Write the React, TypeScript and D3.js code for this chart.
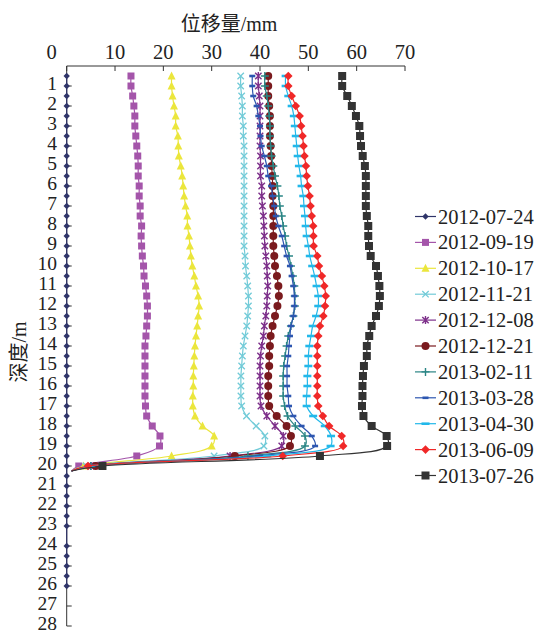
import React from "react";
import * as d3 from "d3";

// ---------- data ----------
const depths = [0.5, 1, 1.5, 2, 2.5, 3, 3.5, 4, 4.5, 5, 5.5, 6, 6.5, 7, 7.5, 8, 8.5, 9, 9.5, 10,
  10.5, 11, 11.5, 12, 12.5, 13, 13.5, 14, 14.5, 15, 15.5, 16, 16.5, 17, 17.5, 18, 18.5, 19, 19.5, 20];

const refDepths = [0.5, 1, 1.5, 2, 2.5, 3, 3.5, 4, 4.5, 5, 5.5, 6, 6.5, 7, 7.5, 8, 8.5, 9, 9.5, 10,
  10.5, 11, 11.5, 12, 12.5, 13, 13.5, 14, 14.5, 15, 15.5, 16, 16.5, 17, 17.5, 18, 18.5, 19, 19.5, 20,
  20.5, 21, 21.5, 22, 22.5, 23, 24, 24.5, 25, 25.5, 26];
const v20120724 = [0, 0, 0, 0, 0, 0, 0, 0, 0, 0, 0, 0, 0, 0, 0, 0, 0, 0, 0, 0,
  0, 0, 0, 0, 0, 0, 0, 0, 0, 0, 0, 0, 0, 0, 0, 0, 0, 0, 0, 0,
  0, 0, 0, 0, 0, 0, 0, 0, 0, 0, 0];

const v20120919 = [13.3, 13.3, 13.65, 13.9, 14.1, 14.1, 14.3, 14.5, 14.7, 14.8,
  14.8, 15.0, 15.0, 15.2, 15.2, 15.5, 15.4, 15.5, 15.65, 15.9,
  16.0, 16.3, 16.55, 16.7, 16.7, 16.55, 16.4, 16.2, 16.2, 16.2,
  16.2, 16.2, 16.2, 16.3, 16.55, 17.7, 19.3, 19.2, 14.5, 2.5];
const v20121017 = [21.7, 21.7, 21.9, 22.2, 22.55, 22.55, 23.0, 23.1, 23.2, 23.6,
  23.9, 24.1, 24.3, 24.6, 24.95, 25.0, 25.3, 25.5, 25.7, 26.0,
  26.4, 26.75, 27.2, 27.4, 27.2, 27.0, 26.75, 26.55, 26.4, 26.3,
  26.2, 26.2, 26.1, 26.1, 26.55, 28.1, 30.5, 30.0, 21.7, 3.5];
const v20121121 = [36.0, 36.0, 36.2, 36.35, 36.35, 36.55, 36.55, 36.7, 36.7, 36.7,
  36.7, 36.7, 36.7, 36.7, 36.7, 36.7, 36.7, 36.7, 36.9, 37.0,
  37.25, 37.45, 37.6, 37.6, 37.45, 37.25, 36.9, 36.55, 36.35, 36.2,
  36.05, 36.05, 36.05, 36.2, 37.2, 39.2, 41.0, 40.8, 30.5, 4.0];
const v20121208 = [39.65, 39.65, 39.85, 40.0, 40.0, 40.0, 40.0, 40.0, 40.1, 40.1,
  40.1, 40.35, 40.35, 40.5, 40.7, 40.8, 40.9, 41.0, 41.2, 41.4,
  41.5, 41.6, 41.5, 41.4, 41.2, 40.9, 40.7, 40.35, 40.1, 40.0,
  40.0, 40.0, 40.0, 40.2, 41.4, 43.1, 44.8, 44.5, 33.8, 5.0];
const v20121221 = [41.7, 41.7, 41.7, 41.9, 42.05, 42.05, 42.05, 42.2, 42.3, 42.4,
  42.55, 42.6, 42.6, 42.75, 42.75, 42.75, 42.75, 42.75, 42.95, 43.1,
  43.5, 43.8, 43.9, 43.6, 43.1, 42.6, 42.2, 42.05, 41.9, 41.9,
  41.7, 41.7, 41.7, 41.9, 43.45, 45.5, 46.4, 46.2, 34.8, 6.0];
const v20130211 = [41.0, 41.0, 41.4, 41.7, 41.9, 42.05, 42.05, 42.2, 42.4, 42.75,
  43.1, 43.6, 43.9, 44.1, 44.5, 44.8, 45.2, 45.5, 46.0, 46.4,
  46.8, 47.1, 47.2, 47.2, 46.9, 46.4, 45.85, 45.5, 45.2, 44.9,
  44.8, 44.8, 44.8, 45.1, 45.7, 47.3, 49.3, 49.3, 37.5, 5.0];
const v20130328 = [38.4, 38.4, 38.6, 39.3, 39.65, 40.0, 40.1, 40.35, 40.9, 41.4,
  41.7, 42.3, 42.6, 42.95, 43.25, 43.8, 44.5, 45.0, 45.5, 46.2,
  46.55, 46.9, 47.1, 47.1, 46.9, 46.4, 46.2, 46.0, 45.85, 45.6,
  45.6, 45.6, 45.85, 46.0, 46.9, 48.6, 50.7, 51.4, 39.5, 5.5];
const v20130430 = [45.3, 45.3, 45.85, 46.55, 47.0, 47.2, 47.4, 47.6, 47.8, 48.05,
  48.4, 48.6, 48.95, 49.1, 49.3, 49.45, 49.65, 50.0, 50.3, 50.8,
  51.3, 51.7, 52.05, 52.05, 51.6, 50.9, 50.55, 50.2, 50.0, 50.0,
  49.8, 49.8, 49.65, 49.65, 51.0, 53.4, 54.7, 54.6, 41.5, 5.0];
const v20130609 = [45.85, 45.85, 46.55, 47.4, 48.2, 48.5, 48.8, 49.0, 49.2, 49.5,
  49.65, 49.9, 50.25, 50.45, 50.7, 51.0, 51.05, 51.1, 51.85, 52.2,
  52.8, 53.3, 53.6, 53.45, 53.1, 52.4, 52.05, 51.85, 51.85, 51.85,
  51.85, 51.85, 51.85, 52.05, 53.0, 54.3, 56.9, 57.2, 44.7, 4.4];
const v20130726 = [57.0, 57.0, 58.05, 59.0, 59.85, 60.55, 60.7, 60.9, 61.25, 61.7,
  61.9, 61.9, 61.9, 61.9, 62.1, 62.4, 62.4, 62.55, 62.9, 64.0,
  64.4, 64.7, 64.8, 64.6, 64.0, 63.1, 62.6, 62.1, 62.1, 61.5,
  61.3, 61.2, 61.2, 61.1, 61.4, 63.1, 66.2, 66.3, 52.4, 7.4];

// end of the lines (unmarked), where the curves meet the reference axis
const tailDepth = 20.25;
const tailValue = 1.0;

const seriesNames = ["2012-07-24", "2012-09-19", "2012-10-17", "2012-11-21", "2012-12-08",
  "2012-12-21", "2013-02-11", "2013-03-28", "2013-04-30", "2013-06-09", "2013-07-26"];
const seriesValues = [v20120724, v20120919, v20121017, v20121121, v20121208, v20121221,
  v20130211, v20130328, v20130430, v20130609, v20130726];
const seriesColors = ["#2f3469", "#a455aa", "#ebe63c", "#72cbd8", "#7d2f8a", "#7a1a1e",
  "#2a8585", "#2d56b0", "#22b8ea", "#f02828", "#333333"];
const seriesMarkers = ["diamond", "square", "triangle", "x", "asterisk", "circle",
  "plus", "dash", "longdash", "reddiamond", "bigsquare"];

const xTicks = [0, 10, 20, 30, 40, 50, 60, 70];
const yTicks = [1, 2, 3, 4, 5, 6, 7, 8, 9, 10, 11, 12, 13, 14, 15, 16, 17, 18, 19, 20,
  21, 22, 23, 24, 25, 26, 27, 28];

const xTitle = "位移量/mm";
const yTitle = "深度/m";

// ---------- layout ----------
const W = 538, H = 633;
const x = d3.scaleLinear().domain([0, 70]).range([66.7, 405]);
const y = d3.scaleLinear().domain([0, 28]).range([66, 626]);
const FONT = "'Liberation Serif', 'Times New Roman', 'Noto Sans CJK SC', serif";
const axisColor = "#333";

function Marker({ type, cx, cy, color }: { type: string; cx: number; cy: number; color: string }) {
  switch (type) {
    case "diamond":
      return <path d={`M${cx},${cy - 3.2}L${cx + 3.2},${cy}L${cx},${cy + 3.2}L${cx - 3.2},${cy}Z`} fill={color} />;
    case "square":
      return <rect x={cx - 3.5} y={cy - 3.5} width={7} height={7} fill={color} />;
    case "bigsquare":
      return <rect x={cx - 4} y={cy - 4} width={8} height={8} fill={color} />;
    case "triangle":
      return <path d={`M${cx},${cy - 4.5}L${cx + 4},${cy + 3.5}L${cx - 4},${cy + 3.5}Z`} fill={color} />;
    case "x":
      return <path d={`M${cx - 3.2},${cy - 3.2}L${cx + 3.2},${cy + 3.2}M${cx - 3.2},${cy + 3.2}L${cx + 3.2},${cy - 3.2}`} stroke={color} strokeWidth={1.3} fill="none" />;
    case "asterisk":
      return <path d={`M${cx - 3.2},${cy - 3.2}L${cx + 3.2},${cy + 3.2}M${cx - 3.2},${cy + 3.2}L${cx + 3.2},${cy - 3.2}M${cx},${cy - 4}L${cx},${cy + 4}`} stroke={color} strokeWidth={1.4} fill="none" />;
    case "circle":
      return <circle cx={cx} cy={cy} r={4} fill={color} />;
    case "plus":
      return <path d={`M${cx - 4},${cy}L${cx + 4},${cy}M${cx},${cy - 4}L${cx},${cy + 4}`} stroke={color} strokeWidth={1.4} fill="none" />;
    case "dash":
      return <rect x={cx - 3} y={cy - 1.3} width={6} height={2.6} fill={color} />;
    case "longdash":
      return <rect x={cx - 4} y={cy - 1.3} width={8} height={2.6} fill={color} />;
    case "reddiamond":
      return <path d={`M${cx},${cy - 4.3}L${cx + 4.3},${cy}L${cx},${cy + 4.3}L${cx - 4.3},${cy}Z`} fill={color} />;
    default:
      return null;
  }
}

export default function App() {
  const line = d3
    .line<[number, number]>()
    .x((d) => x(d[0]))
    .y((d) => y(d[1]))
    .curve(d3.curveCatmullRom.alpha(0.5));

  const series = seriesNames.map((name, i) => {
    const ds = i === 0 ? refDepths : depths;
    const pts: [number, number][] = seriesValues[i].map((v, j) => [v, ds[j]]);
    const linePts: [number, number][] = i === 0 ? pts : [...pts, [tailValue, tailDepth]];
    return { name, color: seriesColors[i], marker: seriesMarkers[i], pts, linePts };
  });

  const legendX = 415;
  const legendY0 = 216.5;
  const legendStep = 25.9;

  return (
    <svg width={W} height={H} style={{ position: "absolute", left: 0, top: 0, background: "#fff" }} fontFamily={FONT}>
      <rect x={0} y={0} width={W} height={H} fill="#fff" />
      {/* titles */}
      <text x={229} y={24} textAnchor="middle" dominantBaseline="central" fontSize={20} fill="#222">{xTitle}</text>
      <text transform={`translate(19,352) rotate(-90)`} textAnchor="middle" dominantBaseline="central" fontSize={20} fill="#222">{yTitle}</text>

      {/* top axis */}
      <line x1={x(0)} x2={x(70)} y1={y(0)} y2={y(0)} stroke={axisColor} strokeWidth={1} />
      {xTicks.map((t) => (
        <g key={t}>
          <line x1={x(t)} x2={x(t)} y1={y(0)} y2={y(0) + 5} stroke={axisColor} />
          <text x={t === 0 ? x(t) - 15 : x(t)} y={52} textAnchor="middle" dominantBaseline="central" fontSize={20.5} fill="#222">{t}</text>
        </g>
      ))}

      {/* left axis */}
      <line x1={x(0)} x2={x(0)} y1={y(0)} y2={y(28)} stroke={axisColor} strokeWidth={1} />
      {yTicks.map((t) => (
        <g key={t}>
          <line x1={x(0)} x2={x(0) + 5} y1={y(t)} y2={y(t)} stroke={axisColor} />
          <text x={57} y={y(t) - 3} textAnchor="end" dominantBaseline="central" fontSize={19.5} fill="#222">{t}</text>
        </g>
      ))}

      {/* series */}
      {series.map((s) => (
        <g key={s.name}>
          <path d={line(s.linePts) || ""} fill="none" stroke={s.color} strokeWidth={1.2} />
          {s.pts.map((p, j) => (
            <Marker key={j} type={s.marker} cx={x(p[0])} cy={y(p[1])} color={s.color} />
          ))}
        </g>
      ))}

      {/* legend */}
      {series.map((s, i) => {
        const ly = legendY0 + i * legendStep;
        return (
          <g key={s.name}>
            <line x1={legendX} x2={legendX + 21} y1={ly} y2={ly} stroke={s.color} strokeWidth={1.2} />
            <Marker type={s.marker} cx={legendX + 10.5} cy={ly} color={s.color} />
            <text x={legendX + 23} y={ly} dominantBaseline="central" fontSize={20.5} fill="#222">{s.name}</text>
          </g>
        );
      })}
    </svg>
  );
}
